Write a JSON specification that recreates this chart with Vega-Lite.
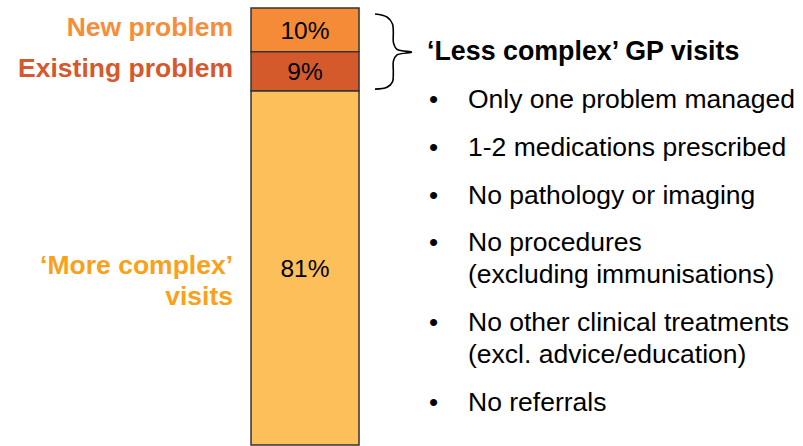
{
  "$schema": "https://vega.github.io/schema/vega-lite/v6.json",
  "width": 803,
  "height": 446,
  "autosize": {"type": "fit", "contains": "padding"},
  "padding": 0,
  "background": "white",
  "config": {"view": {"stroke": null}, "text": {"font": "Liberation Sans"}},
  "datasets": {
    "segments": [
      {"category": "New problem", "share": 0.10, "order": 3, "label": "New problem"},
      {"category": "Existing problem", "share": 0.09, "order": 2, "label": "Existing problem"},
      {"category": "More complex", "share": 0.81, "order": 1, "label": "‘More complex’\nvisits"}
    ],
    "brace": [
      {"i": 1, "bx": 46.70, "by": 0.9863},
      {"i": 2, "bx": 48.19, "by": 0.9795},
      {"i": 3, "bx": 48.88, "by": 0.9635},
      {"i": 4, "bx": 48.98, "by": 0.9452},
      {"i": 5, "bx": 49.00, "by": 0.9201},
      {"i": 6, "bx": 49.44, "by": 0.9053},
      {"i": 7, "bx": 51.25, "by": 0.8989},
      {"i": 8, "bx": 49.44, "by": 0.8927},
      {"i": 9, "bx": 49.00, "by": 0.8790},
      {"i": 10, "bx": 48.98, "by": 0.8516},
      {"i": 11, "bx": 48.88, "by": 0.8311},
      {"i": 12, "bx": 48.19, "by": 0.8185},
      {"i": 13, "bx": 46.70, "by": 0.8144}
    ],
    "list": [
      {"row": 0, "text": "‘Less complex’ GP visits", "kind": "title", "bullet": false},
      {"row": 3, "text": "Only one problem managed", "kind": "item", "bullet": true},
      {"row": 6, "text": "1-2 medications prescribed", "kind": "item", "bullet": true},
      {"row": 9, "text": "No pathology or imaging", "kind": "item", "bullet": true},
      {"row": 12, "text": "No procedures", "kind": "item", "bullet": true},
      {"row": 14, "text": "(excluding immunisations)", "kind": "item", "bullet": false},
      {"row": 17, "text": "No other clinical treatments", "kind": "item", "bullet": true},
      {"row": 19, "text": "(excl. advice/education)", "kind": "item", "bullet": false},
      {"row": 22, "text": "No referrals", "kind": "item", "bullet": true}
    ]
  },
  "resolve": {"scale": {"y": "independent"}},
  "layer": [
    {
      "data": {"name": "segments"},
      "transform": [
        {"stack": "share", "groupby": [], "sort": [{"field": "order", "order": "ascending"}], "as": ["lo", "hi"]}
      ],
      "mark": {"type": "rect", "stroke": "#333333", "strokeWidth": 1.5},
      "encoding": {
        "x": {"datum": 31.26, "type": "quantitative", "scale": {"domain": [0, 100], "nice": false}, "axis": null},
        "x2": {"datum": 44.71},
        "y": {"field": "lo", "type": "quantitative", "scale": {"domain": [0, 1.0183], "nice": false}, "axis": null},
        "y2": {"field": "hi"},
        "fill": {"field": "category", "type": "nominal", "scale": {"domain": ["New problem", "Existing problem", "More complex"], "range": ["#F58B36", "#D45A2B", "#FDBF5A"]}, "legend": null}
      }
    },
    {
      "data": {"name": "segments"},
      "transform": [
        {"stack": "share", "groupby": [], "sort": [{"field": "order", "order": "ascending"}], "as": ["lo", "hi"]},
        {"calculate": "(datum.lo + datum.hi) / 2", "as": "mid"}
      ],
      "mark": {"type": "text", "fontSize": 24.5, "align": "center", "baseline": "middle", "dy": 2, "color": "#000000"},
      "encoding": {
        "x": {"datum": 37.98, "type": "quantitative", "scale": {"domain": [0, 100], "nice": false}, "axis": null},
        "y": {"field": "mid", "type": "quantitative", "scale": {"domain": [0, 1.0183], "nice": false}, "axis": null},
        "text": {"field": "share", "type": "quantitative", "format": ".0%"}
      }
    },
    {
      "data": {"name": "segments"},
      "transform": [
        {"stack": "share", "groupby": [], "sort": [{"field": "order", "order": "ascending"}], "as": ["lo", "hi"]},
        {"calculate": "(datum.lo + datum.hi) / 2", "as": "mid"}
      ],
      "mark": {"type": "text", "fontSize": 26.5, "fontWeight": "bold", "align": "right", "baseline": "middle", "dy": -2, "lineBreak": "\n", "lineHeight": 31},
      "encoding": {
        "x": {"datum": 29.02, "type": "quantitative", "scale": {"domain": [0, 100], "nice": false}, "axis": null},
        "y": {"field": "mid", "type": "quantitative", "scale": {"domain": [0, 1.0183], "nice": false}, "axis": null},
        "text": {"field": "label", "type": "nominal"},
        "color": {"field": "category", "type": "nominal", "scale": {"domain": ["New problem", "Existing problem", "More complex"], "range": ["#F68D3A", "#D5592C", "#F9A11B"]}, "legend": null}
      }
    },
    {
      "data": {"name": "brace"},
      "mark": {"type": "line", "interpolate": "catmull-rom", "color": "#000000", "strokeWidth": 1.6},
      "encoding": {
        "x": {"field": "bx", "type": "quantitative", "scale": {"domain": [0, 100], "nice": false}, "axis": null},
        "y": {"field": "by", "type": "quantitative", "scale": {"domain": [0, 1.0183], "nice": false}, "axis": null},
        "order": {"field": "i", "type": "quantitative"}
      }
    },
    {
      "data": {"name": "list"},
      "transform": [{"filter": "datum.kind === 'title'"}],
      "mark": {"type": "text", "fontSize": 26.8, "fontWeight": "bold", "align": "left", "baseline": "alphabetic", "color": "#000000"},
      "encoding": {
        "x": {"datum": 53.18, "type": "quantitative", "scale": {"domain": [0, 100], "nice": false}, "axis": null},
        "y": {"field": "row", "type": "quantitative", "scale": {"domain": [-3.75, 24.125], "nice": false, "zero": false, "reverse": true}, "axis": null},
        "text": {"field": "text", "type": "nominal"}
      }
    },
    {
      "data": {"name": "list"},
      "transform": [{"filter": "datum.kind === 'item'"}],
      "mark": {"type": "text", "fontSize": 26.5, "align": "left", "baseline": "alphabetic", "color": "#000000"},
      "encoding": {
        "x": {"datum": 58.28, "type": "quantitative", "scale": {"domain": [0, 100], "nice": false}, "axis": null},
        "y": {"field": "row", "type": "quantitative", "scale": {"domain": [-3.75, 24.125], "nice": false, "zero": false, "reverse": true}, "axis": null},
        "text": {"field": "text", "type": "nominal"}
      }
    },
    {
      "data": {"name": "list"},
      "transform": [{"filter": "datum.bullet"}],
      "mark": {"type": "text", "fontSize": 26, "align": "center", "baseline": "alphabetic", "color": "#000000", "text": "•"},
      "encoding": {
        "x": {"datum": 53.99, "type": "quantitative", "scale": {"domain": [0, 100], "nice": false}, "axis": null},
        "y": {"field": "row", "type": "quantitative", "scale": {"domain": [-3.75, 24.125], "nice": false, "zero": false, "reverse": true}, "axis": null}
      }
    }
  ]
}
